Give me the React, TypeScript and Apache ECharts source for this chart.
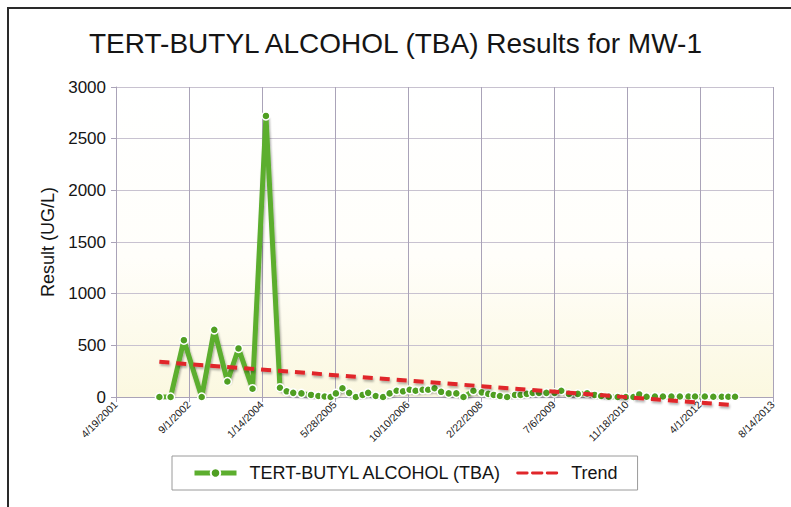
import React, { useEffect, useRef } from "react";
import * as echarts from "echarts";

const chartTitle = "TERT-BUTYL ALCOHOL (TBA) Results for MW-1";
const seriesName = "TERT-BUTYL ALCOHOL (TBA)";
const trendName = "Trend";
const yAxisName = "Result (UG/L)";

const axisStartDate = "2001-04-19";
const axisStepDays = 500;
const axisSteps = 9;
const yMax = 3000;
const yStep = 500;

const sampleDates = [
  "2002-02-10", "2002-04-28", "2002-07-28", "2002-11-27", "2003-02-21", "2003-05-22",
  "2003-08-06", "2003-11-10", "2004-02-10", "2004-05-16", "2004-07-01", "2004-08-15",
  "2004-10-10", "2004-12-15", "2005-02-03", "2005-03-18", "2005-04-28", "2005-06-03",
  "2005-07-18", "2005-09-02", "2005-10-18", "2005-12-03", "2006-01-10", "2006-03-03",
  "2006-04-22", "2006-06-06", "2006-07-24", "2006-09-06", "2006-10-21", "2006-12-01",
  "2007-01-18", "2007-02-25", "2007-04-10", "2007-05-25", "2007-07-16", "2007-09-06",
  "2007-10-25", "2008-01-01", "2008-02-27", "2008-04-12", "2008-05-19", "2008-07-01",
  "2008-08-19", "2008-10-12", "2008-11-19", "2009-01-01", "2009-02-10", "2009-03-25",
  "2009-05-15", "2009-07-10", "2009-08-25", "2009-10-16", "2009-12-16", "2010-02-18",
  "2010-04-10", "2010-05-25", "2010-07-16", "2010-09-15", "2010-11-10", "2011-01-01",
  "2011-02-10", "2011-04-01", "2011-05-28", "2011-07-22", "2011-09-18", "2011-11-15",
  "2012-01-13", "2012-02-27", "2012-05-04", "2012-07-01", "2012-08-28", "2012-10-12",
  "2012-11-27",
];
const tbaValues = [
  0, 0, 550, 0, 650, 150,
  470, 80, 2720, 90, 55, 40,
  35, 20, 10, 5, 0, 35,
  85, 40, 0, 20, 40, 10,
  0, 35, 60, 55, 70, 60,
  70, 70, 85, 50, 35, 35,
  0, 60, 45, 30, 20, 10,
  0, 20, 20, 30, 40, 40,
  40, 40, 60, 30, 30, 35,
  20, 10, 3, 0, 0, 0,
  25, 3, 5, 5, 5, 5,
  5, 5, 5, 3, 3, 3,
  3,
];
const trendDates = ["2002-02-10", "2012-11-27"];
const trendValues = [340, -80];

const DAY = 86400000;
const toUTC = (s: string) => {
  const [y, m, d] = s.split("-").map(Number);
  return Date.UTC(y, m - 1, d);
};
const base = toUTC(axisStartDate);
const dayOffset = (s: string) => Math.round((toUTC(s) - base) / DAY);
const fmtDay = (v: number) => {
  const dt = new Date(base + v * DAY);
  return `${dt.getUTCMonth() + 1}/${dt.getUTCDate()}/${dt.getUTCFullYear()}`;
};

const dashedIcon =
  "path://M0,0 M0,4.5h10a1.5,1.5 0 0 1 0,3h-10a1.5,1.5 0 0 1 0,-3z M15.5,4.5h10a1.5,1.5 0 0 1 0,3h-10a1.5,1.5 0 0 1 0,-3z M31,4.5h10a1.5,1.5 0 0 1 0,3h-10a1.5,1.5 0 0 1 0,-3z M42,12";

export default function App() {
  const ref = useRef<HTMLDivElement>(null);
  useEffect(() => {
    if (!ref.current) return;
    const chart = echarts.init(ref.current, undefined, { renderer: "svg" });
    const font = "'Liberation Sans', Arial, sans-serif";
    chart.setOption({
      animation: false,
      backgroundColor: "#ffffff",
      textStyle: { fontFamily: font },
      title: {
        text: chartTitle,
        left: "center",
        top: 24,
        textStyle: { fontSize: 28, fontWeight: "normal", color: "#151515", fontFamily: font },
      },
      grid: {
        left: 116,
        right: 18,
        top: 87,
        bottom: 110,
        show: true,
        borderWidth: 0,
        backgroundColor: {
          type: "linear", x: 0, y: 0, x2: 0, y2: 1,
          colorStops: [
            { offset: 0, color: "#ffffff" },
            { offset: 0.55, color: "#fffefa" },
            { offset: 1, color: "#fbf8e0" },
          ],
        },
      },
      legend: {
        left: 172,
        top: 456,
        width: 470,
        padding: [8, 20],
        borderColor: "#9a9a9a",
        borderWidth: 1,
        itemWidth: 42,
        itemHeight: 12,
        itemGap: 14,
        textStyle: { fontSize: 18, color: "#151515", fontFamily: font, padding: [0, 0, 0, 8] },
        data: [
          { name: seriesName, lineStyle: { width: 5 } },
          { name: trendName, icon: dashedIcon, itemStyle: { color: "#e0262a", borderWidth: 0 } },
        ],
      },
      xAxis: {
        type: "value",
        min: 0,
        max: axisStepDays * axisSteps,
        interval: axisStepDays,
        axisLine: { show: true, lineStyle: { color: "#aaa3b8", width: 1 } },
        axisTick: { show: true, length: 5, lineStyle: { color: "#aaa3b8" } },
        splitLine: { show: true, lineStyle: { color: "#aaa3b8", width: 1 } },
        axisLabel: {
          rotate: 45,
          fontSize: 10.5,
          color: "#1a1a1a",
          margin: 6,
          formatter: (v: number) => fmtDay(v),
        },
      },
      yAxis: {
        type: "value",
        min: 0,
        max: yMax,
        interval: yStep,
        name: yAxisName,
        nameLocation: "middle",
        nameGap: 56,
        nameTextStyle: { fontSize: 18, color: "#151515", fontFamily: font },
        axisLine: { show: true, lineStyle: { color: "#aaa3b8", width: 1 } },
        axisTick: { show: true, length: 5, lineStyle: { color: "#aaa3b8" } },
        splitLine: { show: true, lineStyle: { color: "#c8c2d0", width: 1 } },
        axisLabel: { fontSize: 17, color: "#151515", margin: 10, formatter: (v: number) => String(v) },
      },
      series: [
        {
          name: seriesName,
          type: "line",
          data: sampleDates.map((d, i) => [dayOffset(d), tbaValues[i]]),
          symbol: "circle",
          symbolSize: 8,
          showAllSymbol: true,
          lineStyle: {
            color: "#5cae2e",
            width: 5,
            shadowColor: "rgba(0,0,0,0.35)",
            shadowBlur: 2,
            shadowOffsetX: 1,
            shadowOffsetY: 2,
          },
          itemStyle: { color: "#4f9f22", borderColor: "#ffffff", borderWidth: 1.5 },
          z: 3,
        },
        {
          name: trendName,
          type: "line",
          data: trendDates.map((d, i) => [dayOffset(d), trendValues[i]]),
          symbol: "none",
          clip: false,
          lineStyle: {
            color: "#e0262a",
            width: 4,
            type: [10, 7],
            shadowColor: "rgba(0,0,0,0.3)",
            shadowBlur: 2,
            shadowOffsetX: 1,
            shadowOffsetY: 2,
          },
          itemStyle: { color: "#e0262a" },
          z: 4,
        },
      ],
      graphic: [
        {
          type: "polyline",
          shape: { points: [[8, 507], [8, 8], [791, 8]] },
          style: { stroke: "#2a2a2a", lineWidth: 2, fill: "none" },
          silent: true,
        },
      ],
    });
    return () => chart.dispose();
  }, []);
  return (
    <div
      ref={ref}
      style={{ position: "fixed", left: 0, top: 0, width: 791, height: 507 }}
    />
  );
}
